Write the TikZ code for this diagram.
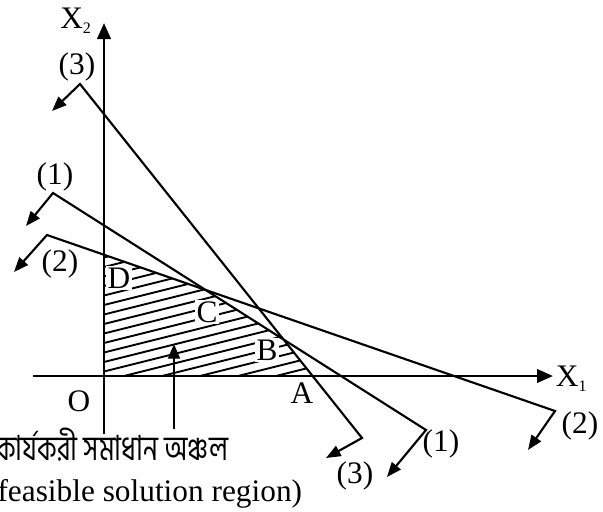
\documentclass[tikz,border=0pt]{standalone}
\usepackage{fontspec}
\setmainfont{Liberation Serif}
\newfontfamily\bnfont[Script=Bengali]{Hind Siliguri}
\usetikzlibrary{arrows.meta}
\begin{document}
\begin{tikzpicture}[x=0.75pt,y=-0.75pt,
  axisline/.style={line width=2.2pt,-{Stealth[length=12pt,width=10pt,inset=0pt]}},
  bound/.style={line width=1.6pt,{Stealth[length=11pt,width=8.5pt,inset=0pt]}-{Stealth[length=11pt,width=8.5pt,inset=0pt]}},
  hatch/.style={line width=1.4pt},
  lbl/.style={font=\fontsize{23.5}{27}\selectfont,inner sep=0.5pt},
  vlbl/.style={font=\fontsize{23.5}{27}\selectfont,inner sep=1pt,fill=white}]
\useasboundingbox (0,0) rectangle (603,511);
% coordinates
\coordinate (O) at (104,376);
\coordinate (A) at (312.6,376);
\coordinate (B) at (283.5,339.5);
\coordinate (C) at (205.6,290);
\coordinate (D) at (104,254.7);
% hatching
\begin{scope}
\clip (O) -- (A) -- (B) -- (C) -- (D) -- cycle;
\foreach \c in {248,257.5,...,440} {
  \draw[hatch] (100,\c+1) -- (330,\c-56.5);
}
\end{scope}
% axes
\coordinate (xs) at (33,376);
\coordinate (xe) at (553,376);
\coordinate (ys) at (104,434);
\coordinate (ye) at (104,23);
\draw[axisline] (xs) -- (xe);
\draw[axisline] (ys) -- (ye);
% constraint lines
\coordinate (t3a) at (52,111); \coordinate (v3a) at (80,84);
\coordinate (v3b) at (362,438); \coordinate (t3b) at (326,458);
\coordinate (t1a) at (26,226); \coordinate (v1a) at (53,193);
\coordinate (v1b) at (426,430); \coordinate (t1b) at (387,477);
\coordinate (t2a) at (14,272); \coordinate (v2a) at (47,235);
\coordinate (v2b) at (555,411); \coordinate (t2b) at (528,450);
\draw[bound] (t3a) -- (v3a) -- (v3b) -- (t3b);
\draw[bound] (t1a) -- (v1a) -- (v1b) -- (t1b);
\draw[bound] (t2a) -- (v2a) -- (v2b) -- (t2b);
% pointer arrow
\coordinate (ps) at (174,429);
\coordinate (pe) at (174,344);
\draw[line width=1.5pt,-{Stealth[length=11pt,width=9pt,inset=0pt]}] (ps) -- (pe);
% labels
\node[lbl,anchor=west] (X1) at (555,379) {X\textsubscript{\fontsize{12}{12}\selectfont 1}};
\node[lbl] (X2) at (76,21) {X\textsubscript{\fontsize{12}{12}\selectfont 2}};
\node[lbl] (l3a) at (77,67) {(3)};
\node[lbl] (l1a) at (55,177) {(1)};
\node[lbl] (l2a) at (60,264) {(2)};
\node[lbl] (l3b) at (355,476) {(3)};
\node[lbl] (l1b) at (441,444) {(1)};
\node[lbl] (l2b) at (580,426) {(2)};
\node[vlbl] (Dl) at (119,278) {D};
\node[vlbl] (Cl) at (207,312) {C};
\node[vlbl] (Bl) at (267,350) {B};
\node[lbl] (Al) at (302,393) {A};
\node[lbl] (Ol) at (79,401) {O};
\node[lbl,anchor=base east,font=\bnfont\fontsize{26}{30}\selectfont] (bn) at (229,460) {\scalebox{0.76}[1]{কার্যকরী সমাধান অঞ্চল}};
\node[lbl,anchor=base east] (en) at (303,501) {(feasible solution region)};
\end{tikzpicture}
\end{document}
